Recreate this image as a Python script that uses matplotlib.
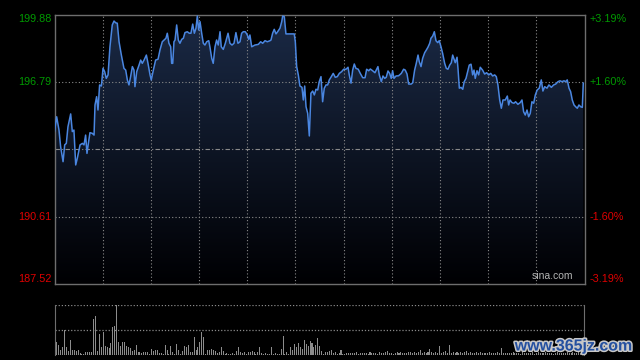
import numpy as np
import matplotlib
matplotlib.use("Agg")
import matplotlib.pyplot as plt
from matplotlib.patches import Polygon
import matplotlib.patheffects as pe

plt.rcParams['font.family'] = ['Liberation Sans', 'DejaVu Sans']

# price axis
prev_close = 193.70
y_ticks = [199.88, 196.79, 190.61, 187.52]
pct_ticks = ["+3.19%", "+1.60%", "-1.60%", "-3.19%"]

# intraday minutes (0..390) and prices
minutes = [0, 1.6, 3.3, 4.5, 6.3, 7.5, 8.7, 9.9, 11.9, 13.1, 14.3, 15.6, 16.8, 18.8, 20.5,
           21.7, 22.9, 23.9, 25.1, 26.1, 27.8, 29.1, 29.8, 31.0, 32.0, 33.2, 34.5, 35.7, 36.9,
           38.1, 39.4, 40.8, 42.5, 43.8, 45.0, 46.2, 47.5, 49.2, 51.1, 52.4, 53.6, 54.8, 56.0,
           57.3, 58.5, 59.2, 60.5, 62.2, 63.4, 64.6, 65.9, 67.6, 68.8, 70.3, 71.2, 72.5, 74.4,
           76.2, 77.6, 79.3, 80.6,
           82.0, 83.0, 84.2, 85.5, 86.2, 87.0, 87.9, 88.7, 89.9, 91.1, 92.3, 93.6, 94.8, 96.0,
           97.7, 99.2, 100.4, 101.7, 102.9, 104.1, 105.1, 106.1, 107.1, 108.3, 109.5, 110.7,
           112.0, 113.5, 114.4, 115.7, 116.8, 118.1, 119.3, 120.5, 121.8, 122.7, 124.2, 125.7,
           127.7, 129.1, 130.6, 132.1, 133.5, 135.0, 136.5, 137.7, 138.9, 140.4, 141.9, 142.9,
           143.8, 145.1, 147.5, 150.0, 151.7, 153.2, 154.9, 156.6, 158.6,
           159.3, 160.5, 161.7, 163.0, 164.2, 165.9, 167.2, 167.9, 169.1, 170.3, 172.8, 175.3,
           176.4, 177.2, 178.2, 179.4, 180.6, 182.1, 183.1, 184.1, 185.1, 186.3, 187.5, 188.7,
           190.0, 191.2, 192.4, 193.7, 194.8, 196.1, 197.3, 198.5, 199.8, 201.0, 202.2, 203.7,
           205.1, 206.6, 208.1, 209.6, 211.3, 212.8, 214.5, 216.0, 216.9, 218.2, 219.4, 220.6,
           221.8, 223.5, 225.0, 226.8, 228.5, 229.7, 231.2, 232.4, 234.1, 235.8,
           238.0, 239.0, 240.5, 241.7, 243.0, 244.1, 245.4, 246.6, 247.8, 248.8, 249.8, 251.3,
           253.2, 255.2, 256.9, 258.1, 259.4, 260.6, 262.5, 263.6, 265.0, 266.2, 267.5, 268.4,
           269.7, 270.9, 272.4, 273.6, 274.8, 276.1, 277.0, 278.3, 279.5, 280.7, 282.0, 283.1,
           284.4, 285.6, 287.1, 288.3, 289.5, 290.8, 292.0, 293.0, 294.2, 294.9, 296.2, 296.9,
           297.9, 299.1, 300.4, 301.5, 302.8, 304.0, 305.2, 306.5, 307.7, 308.7, 309.6, 310.9,
           312.1, 313.3,
           315.0, 316.5, 318.0, 319.5, 321.0, 322.4, 323.9, 325.1, 326.3, 327.6, 328.8, 330.0,
           331.7, 333.2, 334.2, 335.2, 336.6, 338.1, 339.3, 341.0, 342.7, 344.0, 345.2, 346.4,
           347.7, 348.9, 350.1, 351.3, 352.6, 353.8, 355.2, 356.7, 358.2, 359.4, 360.7, 362.4,
           363.8, 365.6, 367.3, 368.8, 370.5, 372.0, 373.4, 374.9, 376.1, 377.3, 378.6, 379.8,
           381.0, 382.3, 383.5, 384.7, 385.9, 387.2, 388.4, 389.1]

prices = [194.51, 195.19, 194.58, 193.82, 193.13, 193.90, 193.97, 194.73, 195.32, 194.51,
          194.58, 192.98, 193.29, 193.90, 193.97, 193.90, 194.35, 193.51, 194.05, 194.46,
          194.43, 194.35, 195.73, 196.11, 195.50, 196.65, 196.60, 197.41, 197.26, 196.95,
          197.11, 198.40, 199.40, 199.58, 199.50, 199.48, 198.63, 198.02, 197.41, 197.33,
          196.88, 196.65, 197.03, 197.49, 197.33, 196.57, 197.26, 197.56, 197.79, 197.64,
          197.79, 198.02, 197.64, 197.11, 196.88, 197.26, 197.79, 197.83, 198.25, 198.63,
          198.71,
          198.79, 199.02, 198.56, 198.40, 197.64, 197.64, 198.63, 198.71, 199.40, 198.71,
          198.56, 198.74, 198.79, 199.05, 199.09, 199.02, 199.02, 199.44, 199.02, 199.25,
          199.81, 199.17, 199.55, 199.02, 198.56, 198.48, 198.63, 198.68, 198.38, 197.87,
          197.64, 198.40, 198.71, 198.48, 199.09, 198.40, 198.28, 198.56, 199.02, 198.56,
          198.48, 198.56, 199.05, 198.56, 198.63, 199.02, 199.09, 199.09, 198.94, 198.74,
          198.94, 198.40, 198.48, 198.51, 198.63, 198.56, 198.68, 198.63, 198.68,
          198.71, 199.02, 199.20, 198.99, 199.09, 199.25, 199.55, 199.81, 199.78, 198.99,
          198.99, 198.99, 198.99, 198.63, 197.49, 197.11, 196.60, 196.54, 195.96, 196.60,
          195.65, 195.35, 194.31, 196.27, 196.37, 196.19, 196.45, 196.42, 196.80, 197.03,
          195.88, 196.50, 196.65, 196.65, 196.88, 197.03, 197.18, 197.00, 197.03, 197.18,
          197.26, 197.37, 197.37, 197.46, 197.11, 196.73, 197.33, 197.61, 197.41, 197.37,
          197.18, 196.98, 196.98, 197.37, 197.30, 197.38, 197.30, 197.21,
          197.49, 197.11, 196.80, 197.06, 196.95, 197.00, 197.29, 197.18, 196.95, 197.30,
          196.95, 197.06, 197.07, 197.18, 197.37, 197.33, 197.15, 196.69, 196.69, 196.75,
          197.33, 197.64, 198.02, 197.72, 197.49, 197.87, 198.13, 198.25, 198.38, 198.56,
          198.79, 198.89, 199.09, 198.68, 198.59, 198.68, 198.40, 198.10, 197.64, 197.41,
          197.37, 197.56, 197.67, 198.02, 197.79, 197.67, 197.92, 197.41, 196.50, 196.54,
          196.45, 196.80, 196.95, 197.26, 197.56, 197.60, 197.11, 197.33, 196.95, 197.30,
          197.11, 197.46,
          197.33, 197.15, 197.21, 197.11, 197.18, 197.06, 197.11, 197.03, 196.65, 195.96,
          195.58, 195.96, 195.96, 196.14, 195.73, 195.96, 195.84, 195.81, 195.88, 195.76,
          195.84, 195.96, 195.42, 195.27, 195.50, 195.19, 195.35, 195.88, 195.81, 196.19,
          196.42, 196.50, 196.88, 196.37, 196.57, 196.50, 196.65, 196.54, 196.65, 196.69,
          196.80, 196.84, 196.80, 196.84, 196.80, 196.88, 196.50, 196.34, 195.96, 195.73,
          195.65, 195.58, 195.73, 195.65, 195.62, 196.73]

# volume bars (relative height units)
volume = [23, 38, 30, 15, 23, 75, 23, 13, 43, 15, 15, 13, 15, 6, 3, 3, 10, 10, 8, 8,
          106, 115, 13, 61, 23, 68, 28, 25, 20, 35, 83, 85, 149, 38, 28, 38, 38, 28, 23, 21,
          13, 15, 31, 10, 8, 5, 8, 9, 8, 3, 18, 13, 15, 15, 5, 5, 3, 31, 15, 3,
          28, 8, 3, 33, 15, 3, 13, 28, 23, 31, 8, 8, 53, 15, 23, 38, 67, 53, 3, 15,
          15, 18, 15, 13, 5, 8, 25, 13, 3, 5, 3, 3, 5, 3, 13, 25, 8, 5, 8, 3,
          8, 8, 11, 8, 3, 8, 23, 5, 3, 5, 3, 3, 23, 3, 5, 3, 3, 18, 55, 3,
          8, 3, 23, 15, 33, 23, 35, 23, 18, 45, 33, 28, 41, 35, 25, 31, 51, 28, 13, 3,
          8, 8, 11, 15,
          5, 8, 4, 6, 15, 4, 3, 6, 5, 7, 6, 5, 8, 4, 6, 7, 5, 6, 4, 8,
          5, 7, 6, 4, 9, 5, 6, 8, 13, 5, 6, 4, 7, 8, 5, 9, 6, 7, 5, 8,
          10, 6, 8, 5, 9, 15, 7, 8, 6, 9, 18, 8, 6, 10, 7, 28, 6, 8, 12, 7,
          30, 6, 8, 7, 10, 6, 8, 5, 9, 12, 6, 8, 5, 7, 9, 6, 8, 5, 7, 6,
          5, 8, 6, 7, 5, 9, 6, 20, 5, 6, 7, 5, 6, 8, 5, 7, 6, 4, 8, 6,
          5, 7, 6, 8, 4, 6, 9, 5, 7, 6, 8, 5, 6, 7, 4, 6, 8, 5, 7, 6,
          5, 8, 6, 7, 9, 5, 6, 8, 7, 10]

fig = plt.figure(figsize=(6.4, 3.6), dpi=100, facecolor='black')
ax = fig.add_axes([54.5 / 640, 1 - 284 / 360, 530 / 640, 269.5 / 360])
axv = fig.add_axes([54.5 / 640, 5 / 360, 529.5 / 640, 50 / 360])

lo, hi = y_ticks[-1], y_ticks[0]
for a in (ax, axv):
    a.set_facecolor('black')
    a.set_xticks([])
    a.set_yticks([])
ax.set_xlim(0, 390)
ax.set_ylim(lo, hi)

# gradient fill under the price line
grad = np.linspace(1, 0, 256).reshape(-1, 1)
top_c = np.array([0.105, 0.165, 0.275])
bot_c = np.array([0.0, 0.0, 0.01])
img = bot_c + (top_c - bot_c) * grad[..., None]
im = ax.imshow(img, extent=[0, 390, lo, hi], aspect='auto', origin='upper', zorder=1)
poly = Polygon(np.column_stack([[minutes[0]] + minutes + [minutes[-1]],
                                [lo] + prices + [lo]]), closed=True,
               facecolor='none', edgecolor='none', transform=ax.transData)
ax.add_patch(poly)
im.set_clip_path(poly)

grid_c = '#8a8a8a'
for k in range(1, 11):
    ax.axvline(390 * k / 11, color=grid_c, lw=0.8, ls=(0, (1, 2)), zorder=2)
for v in (y_ticks[1], y_ticks[2]):
    ax.axhline(v, color=grid_c, lw=0.8, ls=(0, (1, 2)), zorder=2)
ax.axhline(prev_close, color=grid_c, lw=0.8, ls=(0, (4, 2, 1, 2)), zorder=2)

ax.plot(minutes, prices, color='#4a86e0', lw=1.1, zorder=3)

for s in ax.spines.values():
    s.set_color('#6e6e6e')
    s.set_linewidth(1.0)

green, red = '#009a00', '#e00000'
colors = [green, green, red, red]
vas = ['top', 'center', 'center', 'bottom']
for v, p, c, va in zip(y_ticks, pct_ticks, colors, vas):
    ax.text(-0.006, v, f"{v:.2f}", color=c, fontsize=7.8, ha='right', va=va,
            transform=ax.get_yaxis_transform())
    ax.text(1.01, v, p, color=c, fontsize=7.8, ha='left', va=va,
            transform=ax.get_yaxis_transform())

ax.text(0.978, 0.01, "sina.com", color='#b4b4b4', fontsize=7.5, ha='right', va='bottom',
        transform=ax.transAxes, zorder=4)

# volume panel
vol_t = np.linspace(0.3, 389, len(volume))
axv.bar(vol_t, volume, width=0.75, color='#8c8c8c', zorder=2)
axv.set_xlim(0, 390)
axv.set_ylim(0, 148)
axv.axhline(148, color=grid_c, lw=0.9, ls=(0, (1, 1.5)), zorder=1)
axv.axhline(74, color=grid_c, lw=0.9, ls=(0, (1, 1.5)), zorder=1)
axv.axhline(0, color=grid_c, lw=0.9, ls=(0, (1, 1.5)), zorder=1)
for name, s in axv.spines.items():
    s.set_color('#6e6e6e')
    s.set_visible(name in ('left', 'right'))

fig.text(633 / 640, 1 - 346 / 360, "www.365jz.com", color='#2450a0', fontsize=11.5,
         fontweight='bold', ha='right', va='center', zorder=5,
         path_effects=[pe.withStroke(linewidth=2.2, foreground='#c8c8c8')])

fig.savefig("out.png", dpi=100, facecolor='black')
